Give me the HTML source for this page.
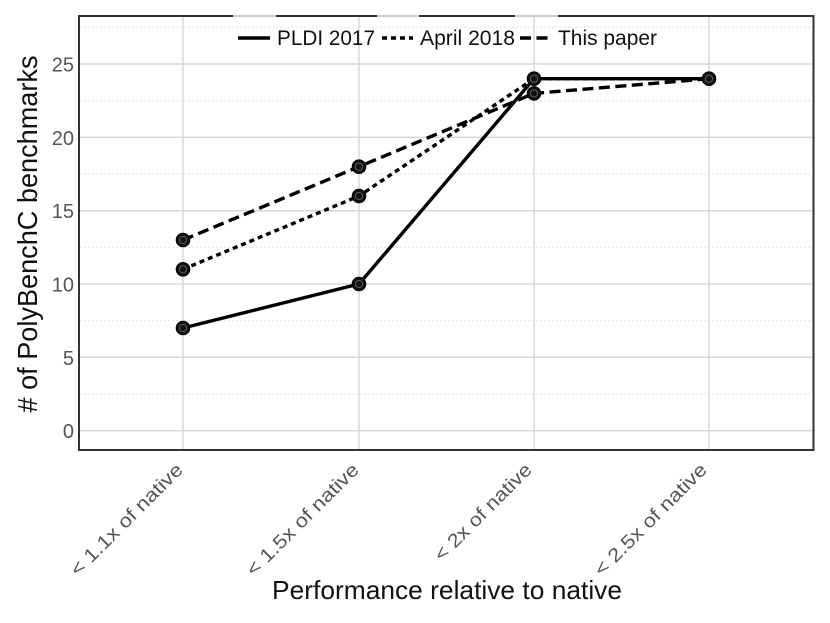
<!DOCTYPE html>
<html>
<head>
<meta charset="utf-8">
<style>
html,body{margin:0;padding:0;background:#fff;}
svg{display:block;}
text{font-family:"Liberation Sans","DejaVu Sans",sans-serif;}
</style>
</head>
<body>
<svg width="830" height="623" viewBox="0 0 830 623" xmlns="http://www.w3.org/2000/svg">
  <rect x="0" y="0" width="830" height="623" fill="#fff"/>
  <!-- minor grid (dotted) -->
  <g stroke="#e2e2e2" stroke-width="1" stroke-dasharray="2,2">
    <line x1="80" y1="27.3" x2="813" y2="27.3"/>
    <line x1="80" y1="100.7" x2="813" y2="100.7"/>
    <line x1="80" y1="174" x2="813" y2="174"/>
    <line x1="80" y1="247.3" x2="813" y2="247.3"/>
    <line x1="80" y1="320.7" x2="813" y2="320.7"/>
    <line x1="80" y1="394" x2="813" y2="394"/>
  </g>
  <!-- major grid -->
  <g stroke="#d4d4d4" stroke-width="1.3">
    <line x1="80" y1="64" x2="813" y2="64"/>
    <line x1="80" y1="137.3" x2="813" y2="137.3"/>
    <line x1="80" y1="210.7" x2="813" y2="210.7"/>
    <line x1="80" y1="284" x2="813" y2="284"/>
    <line x1="80" y1="357.3" x2="813" y2="357.3"/>
    <line x1="80" y1="430.7" x2="813" y2="430.7"/>
    <line x1="183" y1="17" x2="183" y2="449"/>
    <line x1="359" y1="17" x2="359" y2="449"/>
    <line x1="534" y1="17" x2="534" y2="449"/>
    <line x1="709" y1="17" x2="709" y2="449"/>
  </g>
  <!-- frame -->
  <rect x="79" y="16" width="734.5" height="434" fill="none" stroke="#333" stroke-width="2"/>
  <g stroke="#cfcfcf" stroke-width="2.2">
    <line x1="233" y1="16" x2="276" y2="16"/>
    <line x1="377" y1="16" x2="419" y2="16"/>
    <line x1="515" y1="16" x2="558" y2="16"/>
  </g>

  <!-- y tick labels -->
  <g fill="#555" font-size="20" text-anchor="end">
    <text x="74" y="71.5">25</text>
    <text x="74" y="144.8">20</text>
    <text x="74" y="218.2">15</text>
    <text x="74" y="291.5">10</text>
    <text x="74" y="364.8">5</text>
    <text x="74" y="438.2">0</text>
  </g>

  <!-- series -->
  <g fill="none" stroke="#000" stroke-width="3.4" stroke-linejoin="round">
    <polyline points="183,328 359,284 534,78.7 709,78.7"/>
    <polyline points="183,269.3 359,196 534,78.7 709,78.7" stroke-dasharray="5,4"/>
    <polyline points="183,240 359,166.7 534,93.4 709,78.7" stroke-dasharray="11,5.5"/>
  </g>
  <!-- markers -->
  <g>
    <g fill="#111" stroke="#000" stroke-width="1">
      <circle cx="183" cy="328" r="6.8"/>
      <circle cx="359" cy="284" r="6.8"/>
      <circle cx="534" cy="78.7" r="6.8"/>
      <circle cx="709" cy="78.7" r="6.8"/>
      <circle cx="183" cy="269.3" r="6.8"/>
      <circle cx="359" cy="196" r="6.8"/>
      <circle cx="183" cy="240" r="6.8"/>
      <circle cx="359" cy="166.7" r="6.8"/>
      <circle cx="534" cy="93.4" r="6.8"/>
    </g>
    <g fill="none" stroke="#666" stroke-width="0.9">
      <circle cx="183" cy="328" r="3.6"/>
      <circle cx="359" cy="284" r="3.6"/>
      <circle cx="534" cy="78.7" r="3.6"/>
      <circle cx="709" cy="78.7" r="3.6"/>
      <circle cx="183" cy="269.3" r="3.6"/>
      <circle cx="359" cy="196" r="3.6"/>
      <circle cx="183" cy="240" r="3.6"/>
      <circle cx="359" cy="166.7" r="3.6"/>
      <circle cx="534" cy="93.4" r="3.6"/>
    </g>
  </g>

  <!-- legend -->
  <g stroke="#000" stroke-width="3.4">
    <line x1="238" y1="38" x2="270" y2="38"/>
    <line x1="382" y1="38" x2="413" y2="38" stroke-dasharray="5,4"/>
    <line x1="520" y1="38" x2="552" y2="38" stroke-dasharray="11,5.5"/>
  </g>
  <g fill="#111" font-size="21">
    <text x="277" y="45" textLength="98" lengthAdjust="spacingAndGlyphs">PLDI 2017</text>
    <text x="420" y="45" textLength="95" lengthAdjust="spacingAndGlyphs">April 2018</text>
    <text x="558" y="45" textLength="99" lengthAdjust="spacingAndGlyphs">This paper</text>
  </g>

  <!-- x tick labels -->
  <g fill="#555" font-size="19" text-anchor="end">
    <text transform="translate(184,471) rotate(-45)" textLength="150" lengthAdjust="spacingAndGlyphs">&lt; 1.1x of native</text>
    <text transform="translate(360,471) rotate(-45)" textLength="150" lengthAdjust="spacingAndGlyphs">&lt; 1.5x of native</text>
    <text transform="translate(533,471) rotate(-45)" textLength="129" lengthAdjust="spacingAndGlyphs">&lt; 2x of native</text>
    <text transform="translate(708,471) rotate(-45)" textLength="150" lengthAdjust="spacingAndGlyphs">&lt; 2.5x of native</text>
  </g>

  <!-- axis labels -->
  <text x="272" y="599" font-size="26" fill="#111" textLength="350" lengthAdjust="spacingAndGlyphs">Performance relative to native</text>
  <text transform="translate(37,234) rotate(-90)" font-size="28" fill="#111" text-anchor="middle" textLength="357" lengthAdjust="spacingAndGlyphs"># of PolyBenchC benchmarks</text>
</svg>
</body>
</html>
